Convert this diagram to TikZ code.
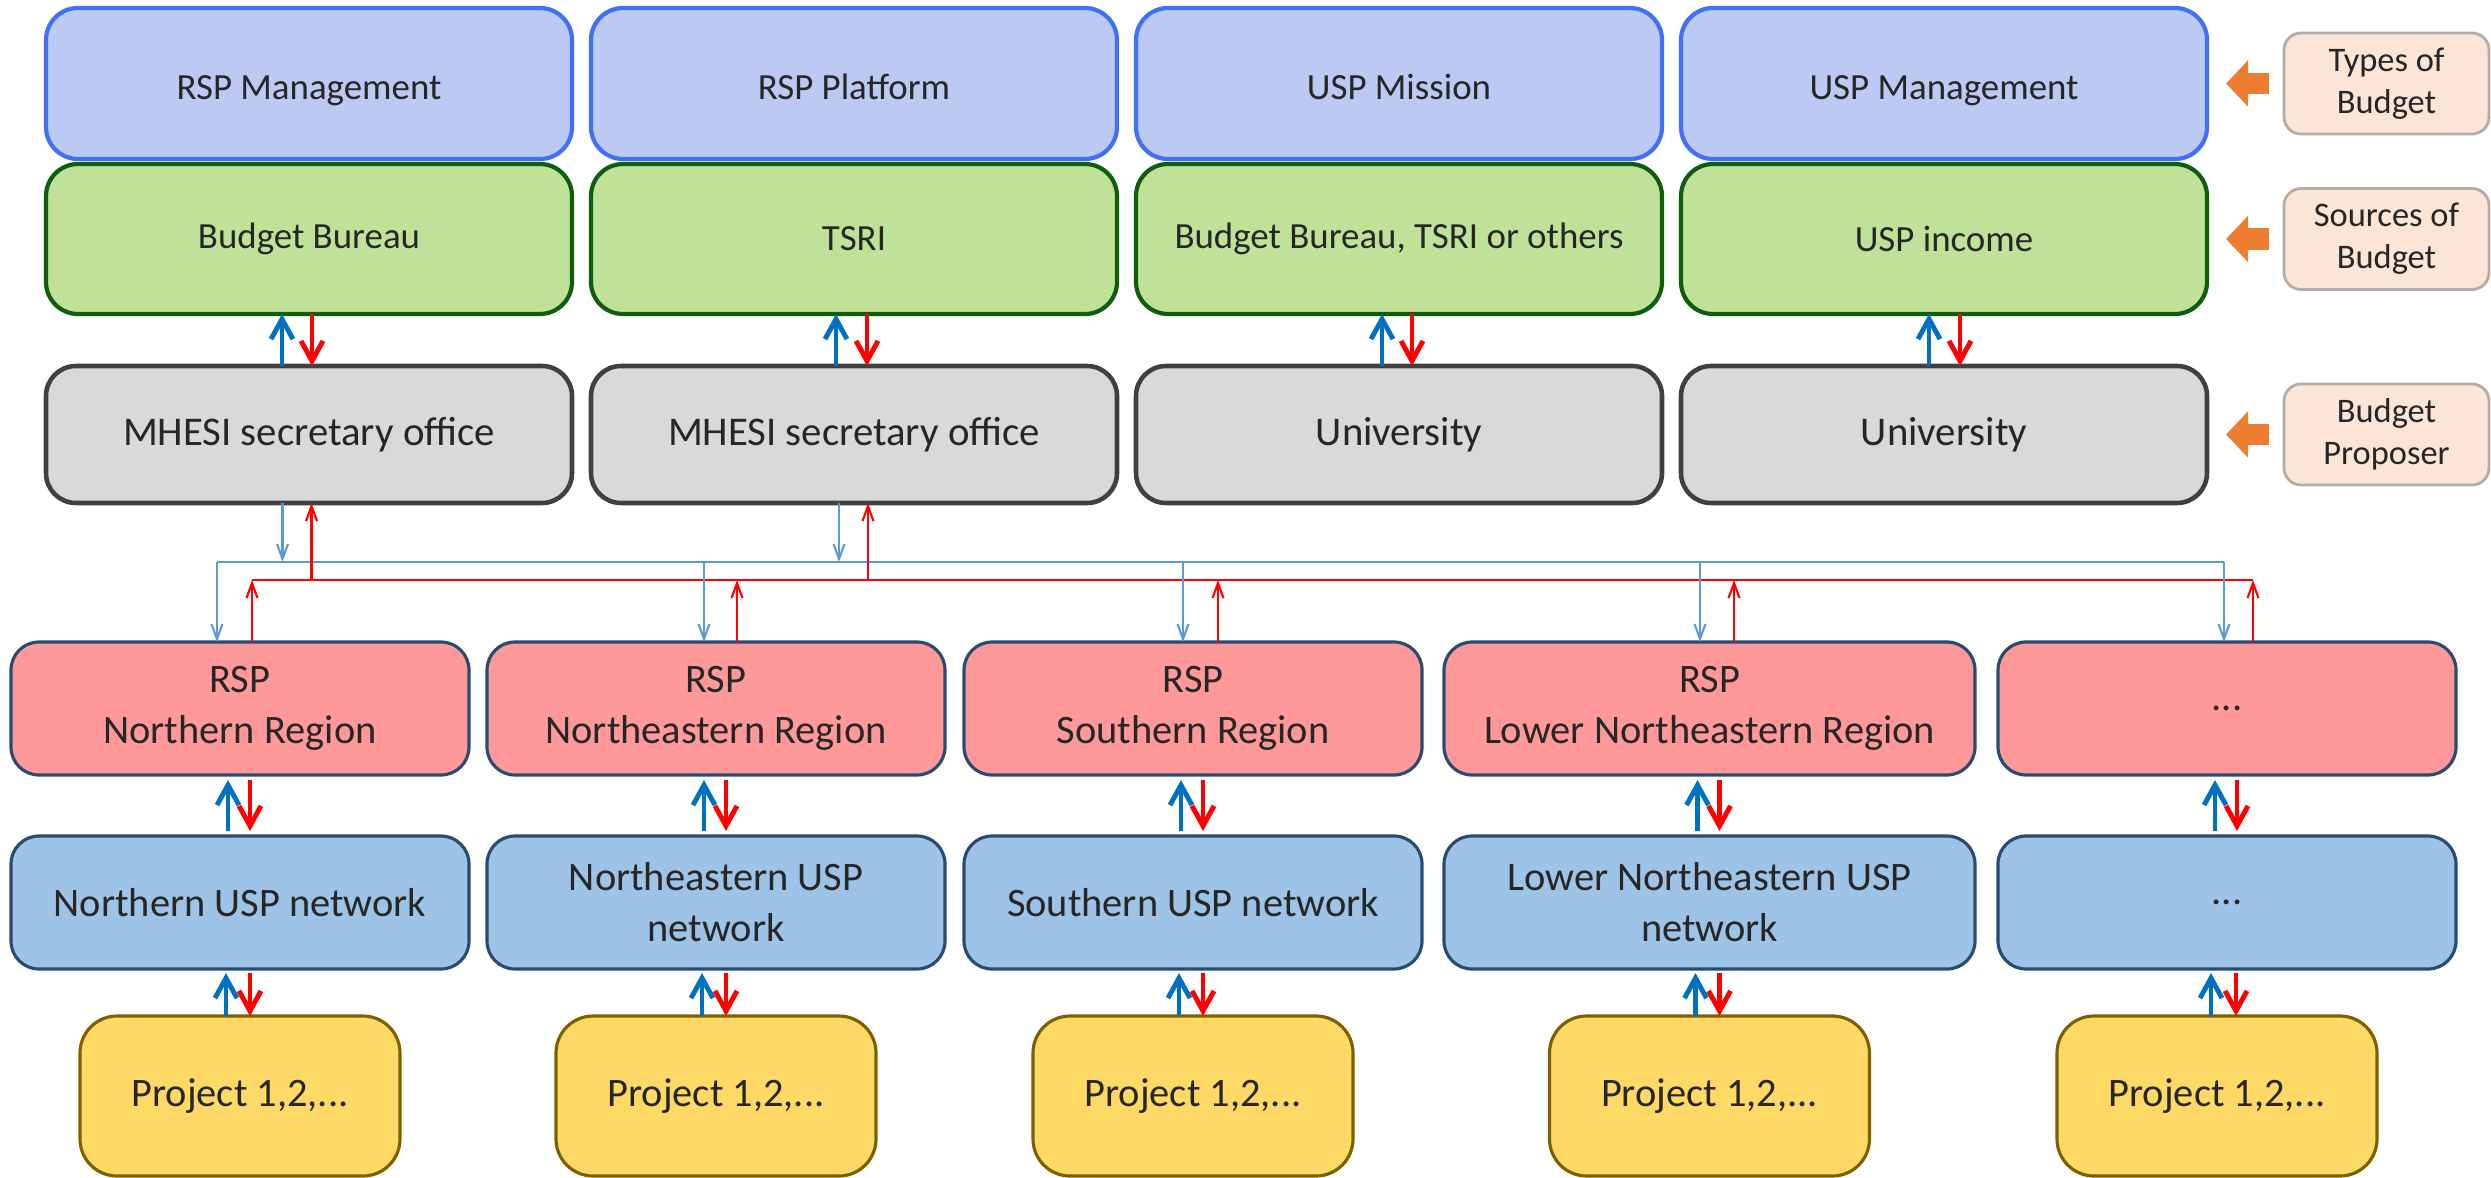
\documentclass[tikz,border=0pt]{standalone}
\usepackage{fontspec}
\setmainfont{Carlito}
\usepackage{tikz}
\usetikzlibrary{shapes,arrows.meta,positioning}
\definecolor{typeline}{RGB}{64,112,245}
\definecolor{typefill}{RGB}{188,201,242}
\definecolor{srcline}{RGB}{14,94,14}
\definecolor{srcfill}{RGB}{192,226,152}
\definecolor{propline}{RGB}{64,64,64}
\definecolor{propfill}{RGB}{217,217,217}
\definecolor{tagline}{RGB}{180,172,168}
\definecolor{tagfill}{RGB}{251,229,214}
\definecolor{tagarrow}{RGB}{237,125,49}
\definecolor{regline}{RGB}{40,76,112}
\definecolor{regfill}{RGB}{255,153,153}
\definecolor{netfill}{RGB}{157,195,230}
\definecolor{projline}{RGB}{127,96,0}
\definecolor{projfill}{RGB}{255,217,102}
\definecolor{upblue}{RGB}{0,112,192}
\definecolor{downred}{RGB}{255,0,0}
\definecolor{busblue}{RGB}{91,155,213}
\tikzstyle{box} = [rectangle, outer sep=0pt, text={black!85}, align=center]
\tikzstyle{typebox} = [box, draw=typeline, line width=1.2pt, fill=typefill, rounded corners=0.32cm, minimum width=5.26cm, minimum height=1.51cm, text height=0.42cm, text depth=0.09cm, font=\fontsize{10.5}{13}\selectfont]
\tikzstyle{srcbox} = [box, draw=srcline, line width=1.2pt, fill=srcfill, rounded corners=0.32cm, minimum width=5.26cm, minimum height=1.50cm, font=\fontsize{10.5}{13}\selectfont]
\tikzstyle{propbox} = [box, draw=propline, line width=1.3pt, fill=propfill, rounded corners=0.3cm, minimum width=5.26cm, minimum height=1.37cm, font=\fontsize{11.6}{14}\selectfont]
\tikzstyle{tagbox} = [box, draw=tagline, line width=0.8pt, fill=tagfill, rounded corners=0.17cm, minimum width=2.05cm, minimum height=1.01cm, font=\fontsize{9.8}{12}\selectfont]
\tikzstyle{region} = [box, draw=regline, line width=0.9pt, fill=regfill, rounded corners=0.28cm, minimum width=4.58cm, minimum height=1.33cm, font=\fontsize{11.5}{14.5}\selectfont]
\tikzstyle{network} = [region, fill=netfill]
\tikzstyle{project} = [box, draw=projline, line width=0.9pt, fill=projfill, rounded corners=0.37cm, minimum width=3.20cm, minimum height=1.60cm, font=\fontsize{11.5}{14.5}\selectfont]
\tikzstyle{pointer} = [draw=tagarrow, line width=0.21cm, -{Triangle[length=0.22cm,width=0.45cm]}, shorten <=0.15cm, shorten >=0.19cm]
\tikzstyle{upline} = [draw=upblue, line width=1.4pt, -{Straight Barb[length=0.2cm,width=0.22cm]}]
\tikzstyle{downline} = [draw=downred, line width=1.4pt, -{Straight Barb[length=0.2cm,width=0.22cm]}]
\tikzstyle{spaced} = [shorten <=0.05cm, shorten >=0.05cm]
\tikzstyle{busline} = [line width=0.6pt]
\tikzstyle{busdown} = [draw=busblue, busline, -{Straight Barb[length=0.15cm,width=0.11cm]}]
\tikzstyle{busup} = [draw=downred, busline, -{Straight Barb[length=0.15cm,width=0.11cm]}]
\begin{document}
\begin{tikzpicture}
    \useasboundingbox (0,0) rectangle (24.91,-11.78);
    % budget types, sources and proposers
    \node [typebox] (rspman) at (3.09,-0.835) {RSP Management};
    \node [typebox, right=0.19cm of rspman] (rspplat) {RSP Platform};
    \node [typebox, right=0.19cm of rspplat] (uspmis) {USP Mission};
    \node [typebox, right=0.19cm of uspmis] (uspman) {USP Management};
    \node [srcbox, below=0.05cm of rspman] (bureau) {Budget Bureau};
    \node [srcbox, below=0.05cm of rspplat] (tsri) {TSRI};
    \node [srcbox, below=0.05cm of uspmis] (others) {Budget Bureau, TSRI or others};
    \node [srcbox, below=0.05cm of uspman] (income) {USP income};
    \node [propbox, below=0.52cm of bureau] (mhesi1) {MHESI secretary office};
    \node [propbox, below=0.52cm of tsri] (mhesi2) {MHESI secretary office};
    \node [propbox, below=0.52cm of others] (uni1) {University};
    \node [propbox, below=0.52cm of income] (uni2) {University};
    \node [tagbox, right=0.77cm of uspman] (types) {Types of\\Budget};
    \node [tagbox, right=0.77cm of income] (sources) {Sources of\\Budget};
    \node [tagbox, right=0.77cm of uni2] (proposer) {Budget\\Proposer};
    \path [pointer] (types) -- (uspman);
    \path [pointer] (sources) -- (income);
    \path [pointer] (proposer) -- (uni2);
    \path [upline] ([xshift=-0.27cm]mhesi1.north) -- ([xshift=-0.27cm]bureau.south);
    \path [downline] ([xshift=0.03cm]bureau.south) -- ([xshift=0.03cm]mhesi1.north);
    \path [upline] ([xshift=-0.18cm]mhesi2.north) -- ([xshift=-0.18cm]tsri.south);
    \path [downline] ([xshift=0.13cm]tsri.south) -- ([xshift=0.13cm]mhesi2.north);
    \path [upline] ([xshift=-0.17cm]uni1.north) -- ([xshift=-0.17cm]others.south);
    \path [downline] ([xshift=0.13cm]others.south) -- ([xshift=0.13cm]uni1.north);
    \path [upline] ([xshift=-0.15cm]uni2.north) -- ([xshift=-0.15cm]income.south);
    \path [downline] ([xshift=0.16cm]income.south) -- ([xshift=0.16cm]uni2.north);
    % regional platforms, networks and projects
    \node [region] (regnorth) at (2.40,-7.085) {RSP\\Northern Region};
    \node [region, right=0.18cm of regnorth] (regne) {RSP\\Northeastern Region};
    \node [region, right=0.19cm of regne] (regsouth) {RSP\\Southern Region};
    \node [region, minimum width=5.31cm, right=0.22cm of regsouth] (reglne) {RSP\\Lower Northeastern Region};
    \node [region, right=0.23cm of reglne] (regmore) {...};
    \node [network, below=0.61cm of regnorth] (netnorth) {Northern USP network};
    \node [network, below=0.61cm of regne] (netne) {Northeastern USP\\network};
    \node [network, below=0.61cm of regsouth] (netsouth) {Southern USP network};
    \node [network, minimum width=5.31cm, below=0.61cm of reglne] (netlne) {Lower Northeastern USP\\network};
    \node [network, below=0.61cm of regmore] (netmore) {...};
    \node [project, below=0.47cm of netnorth] (projnorth) {Project 1,2,...};
    \node [project, below=0.47cm of netne] (projne) {Project 1,2,...};
    \node [project, below=0.47cm of netsouth] (projsouth) {Project 1,2,...};
    \node [project, below=0.47cm of netlne] (projlne) {Project 1,2,...};
    \node [project, below=0.47cm of netmore, xshift=-0.1cm] (projmore) {Project 1,2,...};
    \path [upline, spaced] ([xshift=-0.12cm]netnorth.north) -- ([xshift=-0.12cm]regnorth.south);
    \path [downline, spaced] ([xshift=0.10cm]regnorth.south) -- ([xshift=0.10cm]netnorth.north);
    \path [upline, spaced] ([xshift=-0.12cm]netne.north) -- ([xshift=-0.12cm]regne.south);
    \path [downline, spaced] ([xshift=0.10cm]regne.south) -- ([xshift=0.10cm]netne.north);
    \path [upline, spaced] ([xshift=-0.12cm]netsouth.north) -- ([xshift=-0.12cm]regsouth.south);
    \path [downline, spaced] ([xshift=0.10cm]regsouth.south) -- ([xshift=0.10cm]netsouth.north);
    \path [upline, spaced] ([xshift=-0.12cm]netlne.north) -- ([xshift=-0.12cm]reglne.south);
    \path [downline, spaced] ([xshift=0.10cm]reglne.south) -- ([xshift=0.10cm]netlne.north);
    \path [upline, spaced] ([xshift=-0.12cm]netmore.north) -- ([xshift=-0.12cm]regmore.south);
    \path [downline, spaced] ([xshift=0.10cm]regmore.south) -- ([xshift=0.10cm]netmore.north);
    \path [upline, shorten >=0.04cm] ([xshift=-0.14cm]netnorth.south |- projnorth.north) -- ([xshift=-0.14cm]netnorth.south);
    \path [downline, shorten <=0.04cm] ([xshift=0.10cm]netnorth.south) -- ([xshift=0.10cm]netnorth.south |- projnorth.north);
    \path [upline, shorten >=0.04cm] ([xshift=-0.14cm]netne.south |- projne.north) -- ([xshift=-0.14cm]netne.south);
    \path [downline, shorten <=0.04cm] ([xshift=0.10cm]netne.south) -- ([xshift=0.10cm]netne.south |- projne.north);
    \path [upline, shorten >=0.04cm] ([xshift=-0.14cm]netsouth.south |- projsouth.north) -- ([xshift=-0.14cm]netsouth.south);
    \path [downline, shorten <=0.04cm] ([xshift=0.10cm]netsouth.south) -- ([xshift=0.10cm]netsouth.south |- projsouth.north);
    \path [upline, shorten >=0.04cm] ([xshift=-0.14cm]netlne.south |- projlne.north) -- ([xshift=-0.14cm]netlne.south);
    \path [downline, shorten <=0.04cm] ([xshift=0.10cm]netlne.south) -- ([xshift=0.10cm]netlne.south |- projlne.north);
    \path [upline, shorten >=0.04cm] ([xshift=-0.16cm]netmore.south |- projmore.north) -- ([xshift=-0.16cm]netmore.south);
    \path [downline, shorten <=0.04cm] ([xshift=0.09cm]netmore.south) -- ([xshift=0.09cm]netmore.south |- projmore.north);
    % shared buses between proposers and regions
    \coordinate (bluebus) at (0,-5.62);
    \coordinate (redbus) at (0,-5.80);
    \path [draw=busblue, busline] ([xshift=-0.23cm]regnorth.north |- bluebus) -- ([xshift=-0.03cm]regmore.north |- bluebus);
    \path [draw=downred, busline] ([xshift=0.12cm]regnorth.north |- redbus) -- ([xshift=0.26cm]regmore.north |- redbus);
    \path [busdown] ([xshift=-0.265cm]mhesi1.south) -- ([xshift=-0.265cm]mhesi1.south |- bluebus);
    \path [busup] ([xshift=0.025cm]mhesi1.south |- redbus) -- ([xshift=0.025cm]mhesi1.south);
    \path [busdown] ([xshift=-0.15cm]mhesi2.south) -- ([xshift=-0.15cm]mhesi2.south |- bluebus);
    \path [busup] ([xshift=0.14cm]mhesi2.south |- redbus) -- ([xshift=0.14cm]mhesi2.south);
    \path [busdown] ([xshift=-0.23cm]regnorth.north |- bluebus) -- ([xshift=-0.23cm]regnorth.north);
    \path [busup] ([xshift=0.12cm]regnorth.north) -- ([xshift=0.12cm]regnorth.north |- redbus);
    \path [busdown] ([xshift=-0.12cm]regne.north |- bluebus) -- ([xshift=-0.12cm]regne.north);
    \path [busup] ([xshift=0.21cm]regne.north) -- ([xshift=0.21cm]regne.north |- redbus);
    \path [busdown] ([xshift=-0.10cm]regsouth.north |- bluebus) -- ([xshift=-0.10cm]regsouth.north);
    \path [busup] ([xshift=0.25cm]regsouth.north) -- ([xshift=0.25cm]regsouth.north |- redbus);
    \path [busdown] ([xshift=-0.095cm]reglne.north |- bluebus) -- ([xshift=-0.095cm]reglne.north);
    \path [busup] ([xshift=0.245cm]reglne.north) -- ([xshift=0.245cm]reglne.north |- redbus);
    \path [busdown] ([xshift=-0.03cm]regmore.north |- bluebus) -- ([xshift=-0.03cm]regmore.north);
    \path [busup] ([xshift=0.26cm]regmore.north) -- ([xshift=0.26cm]regmore.north |- redbus);
\end{tikzpicture}
\end{document}
